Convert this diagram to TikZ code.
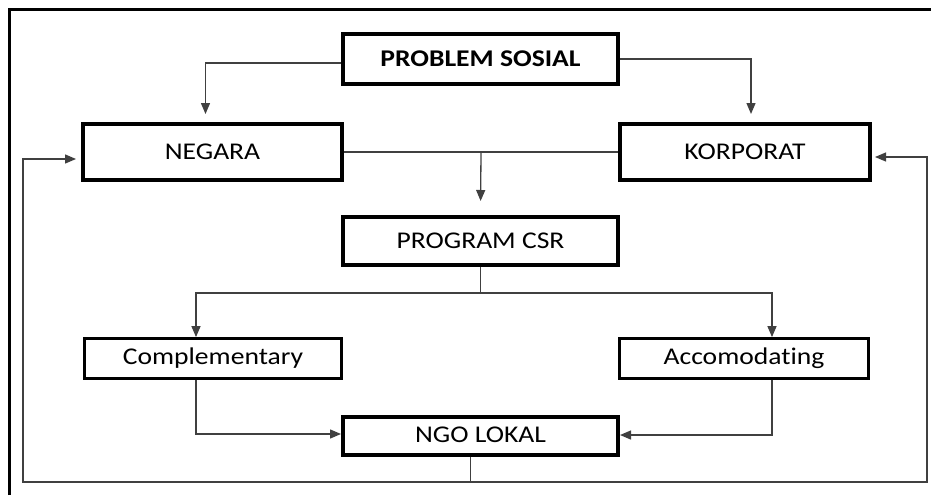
\documentclass[tikz,border=0pt]{standalone}
\usepackage{fontspec}
\setmainfont[FakeStretch=1.15, Ligatures=NoCommon]{Carlito}
\usetikzlibrary{arrows.meta}

\tikzset{
  bigbox/.style={draw, line width=4pt, fill=white, inner sep=0pt},
  smallbox/.style={draw, line width=2.8pt, fill=white, inner sep=0pt},
  link/.style={line width=1.3pt, draw=black!75}
}

\begin{document}
\begin{tikzpicture}[x=1pt, y=-1pt, >={Triangle[length=11pt,width=9pt]},
    font=\fontsize{24}{28}\selectfont]
        \useasboundingbox (0,0) rectangle (931,495);

        % Frame
        \draw[line width=3pt] (9,495) -- (9,10) -- (935,10);

        % Nodes
        \node[bigbox, minimum width=275pt, minimum height=50pt] (ps) at (480.5,59) {\textbf{PROBLEM SOSIAL}};
        \node[bigbox, minimum width=259pt, minimum height=56pt] (negara) at (212.5,152) {NEGARA};
        \node[bigbox, minimum width=250pt, minimum height=56pt] (korporat) at (745,152) {KORPORAT};
        \node[bigbox, minimum width=275pt, minimum height=48pt] (csr) at (480.5,241) {PROGRAM CSR};
        \node[smallbox, minimum width=257pt, minimum height=40pt] (comp) at (213,358.5) {Complementary};
        \node[smallbox, minimum width=249pt, minimum height=40pt] (acc) at (744,358.5) {Accomodating};
        \node[bigbox, minimum width=275pt, minimum height=38pt] (ngo) at (480.5,436) {\raisebox{3pt}{NGO LOKAL}};

        \coordinate (loopL) at (23,482);
        \coordinate (loopR) at (927,482);

        % Edges
        \draw[link, ->, shorten >=8pt] ([yshift=-4pt]ps.west) -| ([xshift=-7pt]negara.north);
        \draw[link, ->, shorten >=8pt] (ps.east) -| ([xshift=6pt]korporat.north);
        \draw[link] (negara.east) -- coordinate[midway] (mid) (korporat.west);
        \draw[link, ->, shorten >=14pt] (mid) -- (csr.north);
        \draw[link] (csr.south) -- ++(0,26) coordinate (split);
        \draw[link, ->] (split) -| ([xshift=-17pt]comp.north);
        \draw[link, ->] (split) -| ([xshift=28pt]acc.north);
        \draw[link, ->] ([xshift=-17pt]comp.south) |- ([yshift=2pt]ngo.west);
        \draw[link, ->] ([xshift=28pt]acc.south) |- ([yshift=1pt]ngo.east);
        \draw[link, ->, shorten >=5pt] ([xshift=-10pt]ngo.south) |- (loopL) |- ([yshift=-7pt]negara.west);
        \draw[link, ->, shorten >=3pt] ([xshift=-10pt]ngo.south) |- (loopR) |- ([yshift=-5pt]korporat.east);

    \end{tikzpicture}
\end{document}
